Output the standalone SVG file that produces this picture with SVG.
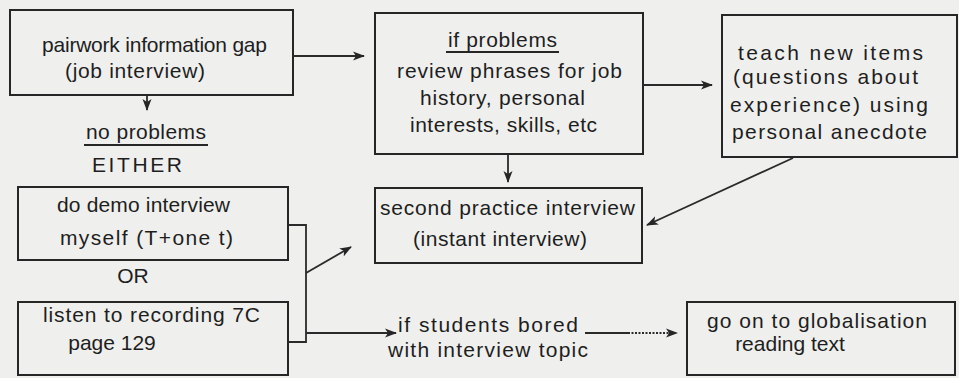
<svg xmlns="http://www.w3.org/2000/svg" width="959" height="378" viewBox="0 0 959 378">
  <defs>
    <style>
      .box { fill: none; stroke: #262626; stroke-width: 2; }
      .ln { fill: none; stroke: #2a2a2a; stroke-width: 1.8; }
      .t { font-family: "Liberation Sans", Arial, sans-serif; font-size: 21px; fill: #1e1e1e; }
      .m { text-anchor: middle; }
      .u { stroke: #262626; stroke-width: 1.8; }
    </style>
    <marker id="ah" viewBox="0 0 12 10" refX="11" refY="5" markerWidth="12" markerHeight="10" markerUnits="userSpaceOnUse" orient="auto">
      <path d="M0,0.5 L12,5 L0,9.5 L3,5 z" fill="#262626"/>
    </marker>
  </defs>
  <rect x="0" y="0" width="959" height="378" fill="#efefed"/>

  <g id="n-pairwork">
    <rect class="box" x="10" y="10" width="283" height="85"/>
    <text class="t" x="42" y="52" textLength="225" lengthAdjust="spacing">pairwork information gap</text>
    <text class="t" x="65" y="78" textLength="140" lengthAdjust="spacing">(job interview)</text>
  </g>

  <g id="n-noproblems">
    <text class="t" x="86" y="139" textLength="120" lengthAdjust="spacing">no problems</text>
    <line class="u" x1="84" y1="145" x2="208" y2="145"/>
    <text class="t" x="92" y="172" textLength="90" lengthAdjust="spacing">EITHER</text>
  </g>

  <g id="n-review">
    <rect class="box" x="375" y="13" width="268" height="141"/>
    <text class="t" x="448" y="47" textLength="109" lengthAdjust="spacing">if problems</text>
    <line class="u" x1="446" y1="52" x2="559" y2="52"/>
    <text class="t" x="397" y="78" textLength="225" lengthAdjust="spacing">review phrases for job</text>
    <text class="t" x="420" y="105" textLength="165" lengthAdjust="spacing">history, personal</text>
    <text class="t" x="410" y="132" textLength="187" lengthAdjust="spacing">interests, skills, etc</text>
  </g>

  <g id="n-teach">
    <rect class="box" x="722" y="15" width="235" height="142"/>
    <text class="t" x="738" y="60" textLength="185" lengthAdjust="spacing">teach new items</text>
    <text class="t" x="733" y="84" textLength="185" lengthAdjust="spacing">(questions about</text>
    <text class="t" x="730" y="112" textLength="198" lengthAdjust="spacing">experience) using</text>
    <text class="t" x="732" y="139" textLength="195" lengthAdjust="spacing">personal anecdote</text>
  </g>

  <g id="n-second">
    <rect class="box" x="375" y="188" width="267" height="75"/>
    <text class="t" x="380" y="215" textLength="255" lengthAdjust="spacing">second practice interview</text>
    <text class="t" x="413" y="246" textLength="174" lengthAdjust="spacing">(instant interview)</text>
  </g>

  <g id="n-demo">
    <rect class="box" x="18" y="187" width="270" height="73"/>
    <text class="t" x="57" y="212" textLength="173" lengthAdjust="spacing">do demo interview</text>
    <text class="t" x="60" y="245" textLength="173" lengthAdjust="spacing">myself (T+one t)</text>
  </g>

  <g id="n-or">
    <text class="t m" x="133" y="283">OR</text>
  </g>

  <g id="n-listen">
    <rect class="box" x="18" y="302" width="270" height="73"/>
    <text class="t" x="43" y="322" textLength="217" lengthAdjust="spacing">listen to recording 7C</text>
    <text class="t m" x="112" y="350">page 129</text>
  </g>

  <g id="n-bored">
    <text class="t" x="398" y="332" textLength="180" lengthAdjust="spacing">if students bored</text>
    <text class="t" x="388" y="357" textLength="200" lengthAdjust="spacing">with interview topic</text>
  </g>

  <g id="n-globalisation">
    <rect class="box" x="687" y="302" width="268" height="73"/>
    <text class="t" x="707" y="328" textLength="220" lengthAdjust="spacing">go on to globalisation</text>
    <text class="t m" x="790" y="351">reading text</text>
  </g>

  <g id="connectors">
    <line class="ln" x1="293" y1="56" x2="364" y2="56" marker-end="url(#ah)"/>
    <line class="ln" x1="147" y1="96" x2="147" y2="110" marker-end="url(#ah)"/>
    <line class="ln" x1="643" y1="85" x2="712" y2="85" marker-end="url(#ah)"/>
    <line class="ln" x1="508" y1="155" x2="508" y2="182" marker-end="url(#ah)"/>
    <line class="ln" x1="793" y1="158" x2="647" y2="225" marker-end="url(#ah)"/>
    <polyline class="ln" points="288,225 306,225 306,342 288,342"/>
    <line class="ln" x1="306" y1="273" x2="351" y2="247" marker-end="url(#ah)"/>
    <line class="ln" x1="306" y1="333" x2="396" y2="333" marker-end="url(#ah)"/>
    <line class="ln" x1="585" y1="333" x2="628" y2="333"/>
    <line class="ln" x1="628" y1="333" x2="677" y2="333" stroke-dasharray="2 1.5" marker-end="url(#ah)"/>
  </g>
</svg>
